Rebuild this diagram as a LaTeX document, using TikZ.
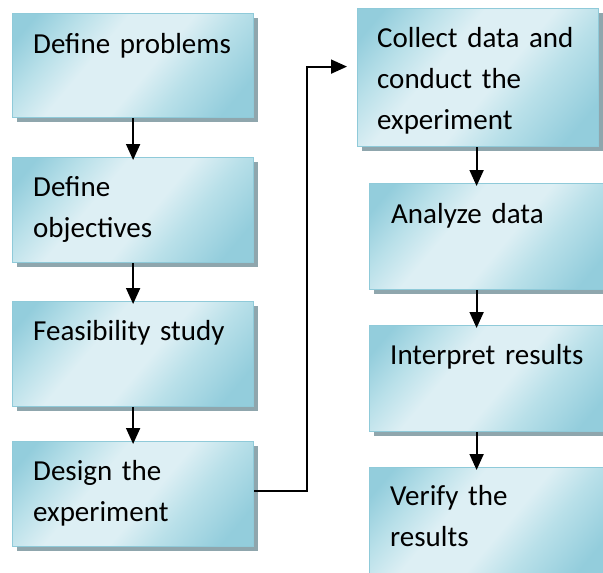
\documentclass[tikz,border=0pt]{standalone}
\usepackage{fontspec}
\setmainfont{Carlito}
\usetikzlibrary{arrows.meta,shadows,calc}
\definecolor{boxdark}{HTML}{93CDDC}
\definecolor{boxmid}{HTML}{B9E0E9}
\definecolor{boxlight}{HTML}{DDEFF4}
\definecolor{boxedge}{HTML}{8FCAD9}
\definecolor{shadowc}{HTML}{8FA6AD}
\pgfdeclareverticalshading{boxshade}{100bp}{color(0bp)=(boxdark); color(22bp)=(boxdark); color(36bp)=(boxmid); color(46bp)=(boxlight); color(60bp)=(boxlight); color(70bp)=(boxmid); color(80bp)=(boxdark); color(100bp)=(boxdark)}
\tikzset{
  stepbox/.style={rectangle, draw=boxedge, line width=1.2pt, inner sep=0pt,
    minimum width=241pt, minimum height=#1, anchor=north west,
    shading=boxshade, shading angle=50,
    general shadow={fill=shadowc, shadow xshift=4pt, shadow yshift=-4pt}},
  txt/.style={anchor=base west, inner sep=0pt, text width=230pt, align=left,
    font=\fontsize{29}{41}\selectfont},
  arr/.style={line width=1.8pt, -{Triangle[length=16pt,width=14pt]}},
  conn/.style={line width=1.8pt, -{Triangle[length=16pt,width=14pt]}}
}
\begin{document}
\begin{tikzpicture}[x=1pt,y=-1pt]
\useasboundingbox (0,0) rectangle (603,573);
\clip (0,0) rectangle (603,573);
% left column
\node[stepbox=104pt] (b1) at (12,13) {};
\node[stepbox=105pt] (b2) at (12,157) {};
\node[stepbox=105pt] (b3) at (12,301) {};
\node[stepbox=105pt] (b4) at (12,441) {};
% right column
\node[stepbox=138pt] (b5) at (357,8) {};
\node[stepbox=106pt] (b6) at (369,183) {};
\node[stepbox=106pt] (b7) at (369,325) {};
\node[stepbox=106pt] (b8) at (369,467) {};
% texts
\node[txt] (t1) at ([shift={(21pt,-40pt)}]b1.north west) {Define problems};
\node[txt] (t2) at ([shift={(21pt,-39pt)}]b2.north west) {Define\\objectives};
\node[txt] (t3) at ([shift={(21pt,-39pt)}]b3.north west) {Feasibility study};
\node[txt] (t4) at ([shift={(21pt,-39pt)}]b4.north west) {Design the\\experiment};
\node[txt] (t5) at ([shift={(20pt,-39pt)}]b5.north west) {Collect data and\\conduct the\\experiment};
\node[txt] (t6) at ([shift={(22pt,-40pt)}]b6.north west) {Analyze data};
\node[txt] (t7) at ([shift={(21pt,-39pt)}]b7.north west) {Interpret results};
\node[txt] (t8) at ([shift={(21pt,-38pt)}]b8.north west) {Verify the\\results};
% arrows left
\draw[arr] (b1.south) -- ([yshift=-3pt]b2.north);
\draw[arr] (b2.south) -- ([yshift=-3pt]b3.north);
\draw[arr] (b3.south) -- ([yshift=-3pt]b4.north);
% arrows right
\coordinate (rx) at ([xshift=-1.5pt]b5.south);
\draw[arr] (rx) -- ([yshift=-3pt]b6.north -| rx);
\draw[arr] (b6.south -| rx) -- ([yshift=-3pt]b7.north -| rx);
\draw[arr] (b7.south -| rx) -- ([yshift=-3pt]b8.north -| rx);
% connector
\draw[conn] ([yshift=3.5pt]b4.east) -- ++(53,0) |- ([xshift=-10pt,yshift=11pt]b5.west);
\end{tikzpicture}
\end{document}
